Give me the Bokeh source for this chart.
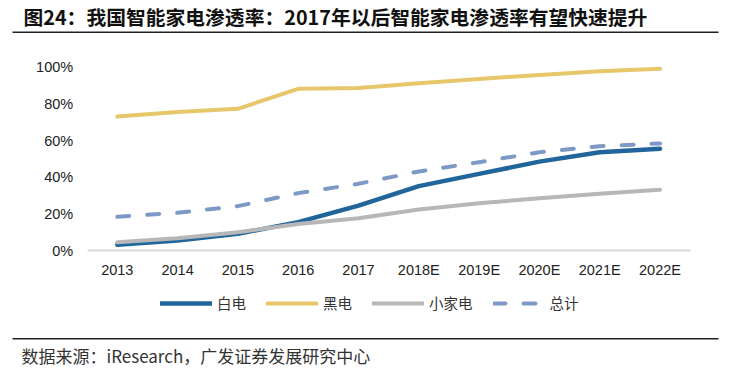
from bokeh.plotting import figure
from bokeh.models import (Range1d, FixedTicker, NumeralTickFormatter,
                          Label, BoxAnnotation, Legend, LegendItem)
from bokeh.embed import file_html
from bokeh.resources import INLINE

# ---------------- data ----------------
years = ["2013", "2014", "2015", "2016", "2017", "2018E", "2019E", "2020E", "2021E", "2022E"]
white_goods = [0.031, 0.055, 0.091, 0.155, 0.245, 0.351, 0.418, 0.485, 0.536, 0.555]   # 白电
black_goods = [0.731, 0.755, 0.773, 0.882, 0.887, 0.913, 0.936, 0.958, 0.978, 0.991]   # 黑电
small_appl = [0.045, 0.067, 0.100, 0.145, 0.176, 0.224, 0.258, 0.285, 0.309, 0.331]    # 小家电
total = [0.184, 0.206, 0.242, 0.313, 0.364, 0.431, 0.482, 0.536, 0.569, 0.584]         # 总计
y_ticks = [0, 0.2, 0.4, 0.6, 0.8, 1.0]

title_text = "图24：我国智能家电渗透率：2017年以后智能家电渗透率有望快速提升"
source_text = "数据来源：iResearch，广发证券发展研究中心"
series_names = ["白电", "黑电", "小家电", "总计"]

xs = list(range(len(years)))

# ---------------- layout (pixels) ----------------
W, H = 729, 368
cat_px = 60.3          # pixels per category
x0_px = 116.8          # pixel x of first category
unit_px = 183.3        # pixels per 100%
y0_px = 118            # pixel height of 0% above figure bottom

x_start = -x0_px / cat_px
y_start = -y0_px / unit_px

p = figure(width=W, height=H,
           x_range=Range1d(x_start, x_start + W / cat_px),
           y_range=Range1d(y_start, y_start + H / unit_px),
           output_backend="svg", toolbar_location=None,
           min_border=0, min_border_left=0, min_border_right=0,
           min_border_top=0, min_border_bottom=0)
p.outline_line_color = None
p.background_fill_color = "white"
p.border_fill_color = "white"
p.xgrid.grid_line_color = None
p.ygrid.grid_line_color = None

tick_font = "Liberation Sans"
p.yaxis.fixed_location = -0.5
p.yaxis.bounds = (0, 1)
p.yaxis.ticker = FixedTicker(ticks=y_ticks)
p.yaxis.formatter = NumeralTickFormatter(format="0%")
p.yaxis.axis_line_color = None
p.yaxis.major_tick_line_color = None
p.yaxis.minor_tick_line_color = None
p.yaxis.major_tick_out = 0
p.yaxis.major_label_standoff = 14
p.yaxis.major_label_text_font = tick_font
p.yaxis.major_label_text_font_size = "14.5px"
p.yaxis.major_label_text_color = "#222222"

p.xaxis.fixed_location = 0
p.xaxis.bounds = (-0.5, len(years) - 0.5)
p.xaxis.ticker = FixedTicker(ticks=xs)
p.xaxis.major_label_overrides = {i: y for i, y in zip(xs, years)}
p.xaxis.axis_line_color = "#d9d9d9"
p.xaxis.axis_line_width = 2
p.xaxis.major_tick_line_color = None
p.xaxis.minor_tick_line_color = None
p.xaxis.major_tick_out = 0
p.xaxis.major_label_standoff = 11
p.xaxis.major_label_text_font = tick_font
p.xaxis.major_label_text_font_size = "14.5px"
p.xaxis.major_label_text_color = "#222222"

r_white = p.line(xs, white_goods, line_color="#20669b", line_width=4.5, line_cap="round", line_join="round")
r_black = p.line(xs, black_goods, line_color="#e6c76c", line_width=4, line_cap="round", line_join="round")
r_small = p.line(xs, small_appl, line_color="#b7b7ba", line_width=4, line_cap="round", line_join="round")
r_total = p.line(xs, total, line_color="#7d99c6", line_width=4, line_dash="12 18",
                 line_cap="round", line_join="round")

legend = Legend(items=[LegendItem(label=series_names[0], renderers=[r_white]),
                       LegendItem(label=series_names[1], renderers=[r_black]),
                       LegendItem(label=series_names[2], renderers=[r_small]),
                       LegendItem(label=series_names[3], renderers=[r_total])],
                orientation="horizontal", location=(160, 55),
                glyph_width=52, glyph_height=20, label_standoff=5, spacing=20,
                padding=0, margin=0, border_line_color=None, background_fill_alpha=0,
                label_text_font="Noto Sans CJK SC", label_text_font_size="14.5px",
                label_text_color="#333333")
p.add_layout(legend, "center")

# title and source (screen units from the figure's bottom-left)
p.add_layout(Label(x=23, y=H - 16, x_units="screen", y_units="screen", text=title_text,
                   text_font="Noto Sans CJK SC", text_font_style="bold", text_font_size="19.8px",
                   text_color="#111111", text_baseline="middle"))
p.add_layout(Label(x=21, y=H - 355, x_units="screen", y_units="screen", text=source_text,
                   text_font="Noto Sans CJK SC", text_font_size="17px",
                   text_color="#333333", text_baseline="middle"))

# rule lines
p.add_layout(BoxAnnotation(left=12, right=718, top=H - 31, bottom=H - 32.5,
                           left_units="screen", right_units="screen",
                           top_units="screen", bottom_units="screen",
                           fill_color="#222222", fill_alpha=1, line_color=None))
p.add_layout(BoxAnnotation(left=12, right=718, top=H - 337.5, bottom=H - 339,
                           left_units="screen", right_units="screen",
                           top_units="screen", bottom_units="screen",
                           fill_color="#222222", fill_alpha=1, line_color=None))

open("out.html", "w").write(file_html(p, INLINE))
